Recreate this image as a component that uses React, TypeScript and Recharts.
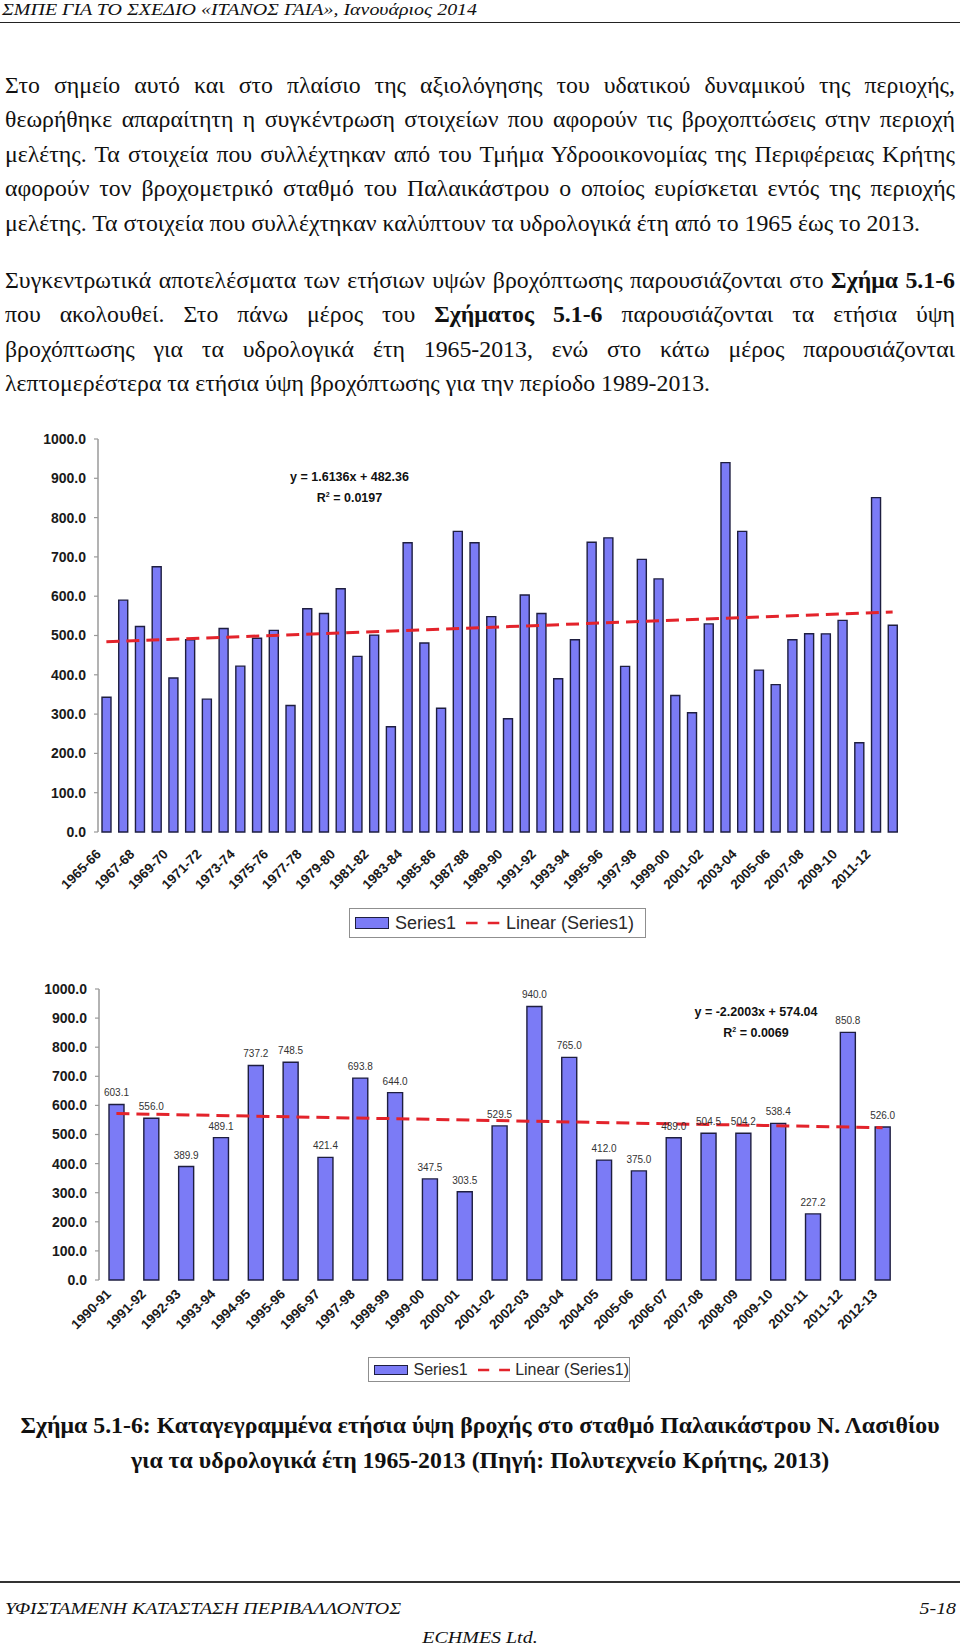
import React from "react";
import { ComposedChart, Bar, Line, XAxis, YAxis, LabelList } from "recharts";

const topYears = [
  "1965-66", "1966-67", "1967-68", "1968-69", "1969-70", "1970-71", "1971-72", "1972-73",
  "1973-74", "1974-75", "1975-76", "1976-77", "1977-78", "1978-79", "1979-80", "1980-81",
  "1981-82", "1982-83", "1983-84", "1984-85", "1985-86", "1986-87", "1987-88", "1988-89",
  "1989-90", "1990-91", "1991-92", "1992-93", "1993-94", "1994-95", "1995-96", "1996-97",
  "1997-98", "1998-99", "1999-00", "2000-01", "2001-02", "2002-03", "2003-04", "2004-05",
  "2005-06", "2006-07", "2007-08", "2008-09", "2009-10", "2010-11", "2011-12", "2012-13",
];
const topValues = [
  343, 590, 523, 675, 392, 489, 338, 518, 422, 493, 513, 322, 568, 556, 619, 447,
  501, 268, 736, 481, 315, 765, 736, 548, 288, 603.1, 556.0, 389.9, 489.1, 737.2, 748.5, 421.4,
  693.8, 644.0, 347.5, 303.5, 529.5, 940.0, 765.0, 412.0, 375.0, 489.0, 504.5, 504.2, 538.4, 227.2, 850.8, 526.0,
];
const topTrendEnds = [484.0, 559.8];

const bottomYears = [
  "1990-91", "1991-92", "1992-93", "1993-94", "1994-95", "1995-96", "1996-97", "1997-98",
  "1998-99", "1999-00", "2000-01", "2001-02", "2002-03", "2003-04", "2004-05", "2005-06",
  "2006-07", "2007-08", "2008-09", "2009-10", "2010-11", "2011-12", "2012-13",
];
const bottomValues = [
  603.1, 556.0, 389.9, 489.1, 737.2, 748.5, 421.4, 693.8, 644.0, 347.5, 303.5, 529.5,
  940.0, 765.0, 412.0, 375.0, 489.0, 504.5, 504.2, 538.4, 227.2, 850.8, 526.0,
];
const bottomTrendEnds = [571.8, 523.4];

const yTicks = [0, 100, 200, 300, 400, 500, 600, 700, 800, 900, 1000];
const topEquation = ["y = 1.6136x + 482.36", "0.0197"];
const bottomEquation = ["y = -2.2003x + 574.04", "0.0069"];
const legendLabels = ["Series1", "Linear (Series1)"];

const headerText = "ΣΜΠΕ ΓΙΑ ΤΟ ΣΧΕΔΙΟ «ΙΤΑΝΟΣ ΓΑΙΑ», Ιανουάριος 2014";
const para1 = [
  "Στο σημείο αυτό και στο πλαίσιο της αξιολόγησης του υδατικού δυναμικού της περιοχής,",
  "θεωρήθηκε απαραίτητη η συγκέντρωση στοιχείων που αφορούν τις βροχοπτώσεις στην περιοχή",
  "μελέτης. Τα στοιχεία που συλλέχτηκαν από του Τμήμα Υδροοικονομίας της Περιφέρειας Κρήτης",
  "αφορούν τον βροχομετρικό σταθμό του Παλαικάστρου ο οποίος ευρίσκεται εντός της περιοχής",
  "μελέτης. Τα στοιχεία που συλλέχτηκαν καλύπτουν τα υδρολογικά έτη από το 1965 έως το 2013.",
];
type Seg = string | { b: string };
const para2: Seg[][] = [
  ["Συγκεντρωτικά αποτελέσματα των ετήσιων υψών βροχόπτωσης παρουσιάζονται στο ", { b: "Σχήμα 5.1-6" }],
  ["που ακολουθεί. Στο πάνω μέρος του ", { b: "Σχήματος 5.1-6" }, " παρουσιάζονται τα ετήσια ύψη"],
  ["βροχόπτωσης για τα υδρολογικά έτη 1965-2013, ενώ στο κάτω μέρος παρουσιάζονται"],
  ["λεπτομερέστερα τα ετήσια ύψη βροχόπτωσης για την περίοδο 1989-2013."],
];
const caption = [
  "Σχήμα 5.1-6: Καταγεγραμμένα ετήσια ύψη βροχής στο σταθμό Παλαικάστρου Ν. Λασιθίου",
  "για τα υδρολογικά έτη 1965-2013 (Πηγή: Πολυτεχνείο Κρήτης, 2013)",
];
const footerLeft = "ΥΦΙΣΤΑΜΕΝΗ ΚΑΤΑΣΤΑΣΗ ΠΕΡΙΒΑΛΛΟΝΤΟΣ";
const footerRight = "5-18";
const footerCenter = "ECHMES Ltd.";

const serif = "'Liberation Serif', 'Times New Roman', serif";
const sans = "'Liberation Sans', Arial, sans-serif";
const BAR_FILL = "#7b7bf6";
const BAR_STROKE = "#1e1e40";
const TREND = "#e3232b";
const AXIS = "#9a9a9a";

type ChartProps = {
  years: string[];
  values: number[];
  trendEnds: number[];
  top: number;
  height: number;
  marginTop: number;
  marginRight: number;
  yWidth: number;
  xHeight: number;
  barSize: number;
  interval: number;
  labels: boolean;
  offX: number;
  offY: number;
};

function RainChart(p: ChartProps) {
  const n = p.years.length;
  const data = p.years.map((c, i) => ({
    cat: c,
    value: p.values[i],
    trend: i === 0 ? p.trendEnds[0] : i === n - 1 ? p.trendEnds[1] : null,
  }));
  const bounds = Array.from({ length: n + 1 }, (_, i) => i);
  const tick = (t: any) => {
    const x = t.x + p.offX;
    const y = t.y + p.offY;
    return (
      <text
        x={x}
        y={y}
        transform={`rotate(-45, ${x}, ${y})`}
        textAnchor="end"
        fontFamily={sans}
        fontWeight="bold"
        fontSize={13.5}
        fill="#1a1a1a"
      >
        {t.payload.value}
      </text>
    );
  };
  return (
    <div style={{ position: "absolute", left: 0, top: p.top }}>
      <ComposedChart
        width={960}
        height={p.height}
        data={data}
        margin={{ top: p.marginTop, right: p.marginRight, left: 0, bottom: 0 }}
        barCategoryGap="0%"
      >
        <XAxis
          xAxisId="grid"
          type="number"
          domain={[0, n]}
          ticks={bounds}
          tick={false}
          height={0}
          tickSize={4}
          axisLine={{ stroke: AXIS, strokeWidth: 1.5 }}
          tickLine={{ stroke: AXIS, strokeWidth: 1.2 }}
          allowDecimals={false}
        />
        <XAxis
          xAxisId="cat"
          dataKey="cat"
          type="category"
          height={p.xHeight}
          interval={p.interval}
          axisLine={false}
          tickLine={false}
          tickSize={0}
          tickMargin={0}
          tick={tick}
        />
        <YAxis
          domain={[0, 1000]}
          ticks={yTicks}
          width={p.yWidth}
          interval={0}
          tickFormatter={(v: number) => v.toFixed(1)}
          axisLine={{ stroke: AXIS, strokeWidth: 1.5 }}
          tickLine={{ stroke: AXIS, strokeWidth: 1.2 }}
          tickSize={4}
          tickMargin={8}
          tick={{ fontFamily: sans, fontWeight: "bold", fontSize: 14, fill: "#1a1a1a" }}
        />
        <Bar
          xAxisId="cat"
          dataKey="value"
          barSize={p.barSize}
          fill={BAR_FILL}
          stroke={BAR_STROKE}
          strokeWidth={1.4}
          isAnimationActive={false}
        >
          {p.labels ? (
            <LabelList
              dataKey="value"
              position="top"
              offset={8}
              formatter={(v: any) => Number(v).toFixed(1)}
              style={{ fontFamily: sans, fontSize: 10, fill: "#333" }}
            />
          ) : null}
        </Bar>
        <Line
          xAxisId="cat"
          dataKey="trend"
          stroke={TREND}
          strokeWidth={3}
          strokeDasharray="13 7"
          dot={false}
          activeDot={false}
          connectNulls
          isAnimationActive={false}
        />
      </ComposedChart>
    </div>
  );
}

function Equation({ lines, cx, top }: { lines: string[]; cx: number; top: number }) {
  return (
    <div
      style={{
        position: "absolute",
        left: cx - 100,
        width: 200,
        top,
        textAlign: "center",
        fontFamily: sans,
        fontWeight: "bold",
        fontSize: 12.5,
        lineHeight: "18px",
        color: "#111",
      }}
    >
      <div>{lines[0]}</div>
      <div>
        R<sup style={{ fontSize: 7, verticalAlign: "5px" }}>2</sup> = {lines[1]}
      </div>
    </div>
  );
}

function LegendBox(props: {
  left: number; top: number; width: number; height: number; fontSize: number;
  swW: number; swH: number; gap1: number; gap2: number; gap3: number; dashW: number;
}) {
  const { left, top, width, height, fontSize, swW, swH, gap1, gap2, gap3, dashW } = props;
  return (
    <div
      style={{
        position: "absolute", left, top, width, height, boxSizing: "border-box",
        border: "1px solid #8f8f8f", background: "#fff", display: "flex", alignItems: "center",
        paddingLeft: 5, fontFamily: sans, fontSize, color: "#2a2a2a", whiteSpace: "nowrap",
      }}
    >
      <div style={{ width: swW, height: swH, boxSizing: "border-box", background: BAR_FILL, border: `1.5px solid ${BAR_STROKE}` }} />
      <span style={{ marginLeft: gap1 }}>{legendLabels[0]}</span>
      <svg width={dashW} height={4} style={{ marginLeft: gap2 }}>
        <line x1={0} y1={2} x2={dashW} y2={2} stroke={TREND} strokeWidth={2.5} strokeDasharray={`${dashW * 0.34} ${dashW * 0.3}`} />
      </svg>
      <span style={{ marginLeft: gap3 }}>{legendLabels[1]}</span>
    </div>
  );
}

function renderSegs(segs: Seg[]) {
  return segs.map((s, i) => (typeof s === "string" ? <span key={i}>{s}</span> : <b key={i}>{s.b}</b>));
}

function Paragraph({ lines, top }: { lines: Seg[][]; top: number }) {
  return (
    <div
      style={{
        position: "absolute", left: 5, top, width: 950,
        fontFamily: serif, fontSize: 23.8, lineHeight: "34.5px", color: "#111",
      }}
    >
      {lines.map((l, i) => {
        const last = i === lines.length - 1;
        return (
          <div key={i} style={{ textAlign: last ? "left" : "justify", textAlignLast: last ? "left" : "justify", height: 34.5 }}>
            {renderSegs(l)}
          </div>
        );
      })}
    </div>
  );
}

const smallSerif: React.CSSProperties = {
  position: "absolute", fontFamily: serif, fontStyle: "italic", fontSize: 17.5,
  lineHeight: "20px", color: "#111", whiteSpace: "nowrap",
};

export default function App() {
  return (
    <div style={{ position: "absolute", left: 0, top: 0, width: 960, height: 1650, background: "#fff", overflow: "hidden" }}>
      <div style={{ ...smallSerif, left: 2, top: -1, transform: "scaleX(1.14)", transformOrigin: "left top" }}>
        {headerText}
      </div>
      <div style={{ position: "absolute", left: 0, top: 21.5, width: 960, height: 1.5, background: "#222" }} />

      <Paragraph lines={para1.map((s) => [s])} top={67.5} />
      <Paragraph lines={para2} top={262.5} />

      <RainChart
        years={topYears} values={topValues} trendEnds={topTrendEnds}
        top={400} height={500} marginTop={39} marginRight={59} yWidth={98} xHeight={68}
        barSize={9} interval={1} labels={false} offX={-4.5} offY={23}
      />
      <Equation lines={topEquation} cx={349.5} top={468} />
      <LegendBox left={349} top={908} width={297} height={30} fontSize={18} swW={34} swH={12} gap1={6} gap2={10} gap3={6} dashW={34} />

      <RainChart
        years={bottomYears} values={bottomValues} trendEnds={bottomTrendEnds}
        top={950} height={400} marginTop={39} marginRight={60} yWidth={99} xHeight={70}
        barSize={15} interval={0} labels={true} offX={-4.5} offY={15}
      />
      <Equation lines={bottomEquation} cx={756} top={1003} />
      <LegendBox left={368} top={1357} width={262} height={25} fontSize={16} swW={35} swH={10} gap1={5} gap2={10} gap3={5} dashW={33} />

      <div style={{ position: "absolute", left: 0, top: 1408, width: 960, textAlign: "center", fontFamily: serif, fontWeight: "bold", fontSize: 23.8, lineHeight: "35px", color: "#111" }}>
        <div>{caption[0]}</div>
        <div>{caption[1]}</div>
      </div>

      <div style={{ position: "absolute", left: 0, top: 1581, width: 960, height: 2, background: "#333" }} />
      <div style={{ ...smallSerif, left: 5, top: 1598, transform: "scaleX(1.14)", transformOrigin: "left top" }}>
        {footerLeft}
      </div>
      <div style={{ ...smallSerif, right: 4, top: 1598, transform: "scaleX(1.14)", transformOrigin: "right top" }}>
        {footerRight}
      </div>
      <div style={{ ...smallSerif, left: 0, width: 960, top: 1627, textAlign: "center", transform: "scaleX(1.14)", transformOrigin: "center top" }}>
        {footerCenter}
      </div>
    </div>
  );
}
